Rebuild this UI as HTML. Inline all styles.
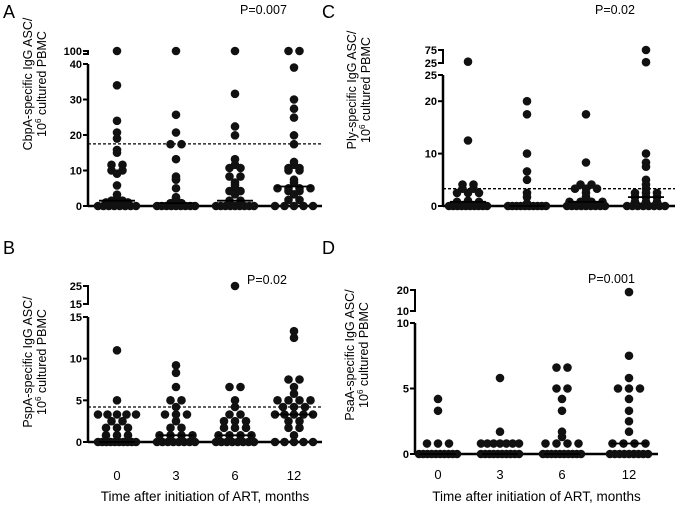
<!DOCTYPE html>
<html><head><meta charset="utf-8"><style>
body{margin:0;background:#fff}
svg text{font-family:"Liberation Sans",Arial,sans-serif}
</style></head><body>
<svg id="fig" width="686" height="508" xmlns="http://www.w3.org/2000/svg"></svg>
<script>
const categories = ["0","3","6","12"];
const seriesA = [
 [100,34,24,20.7,19,15.8,15,11.6,11.6,10,10,9.1,5.8,3.2,2,1.5,1.5,1,1,1,0.8,0,0,0,0,0,0,0,0],
 [100,25.7,20.7,17.4,17.4,13.2,8.3,7.6,7.4,5,2.5,2,1,0.8,0.8,0,0,0,0,0,0,0,0,0],
 [100,31.6,22.4,19.9,13.2,11.6,10.7,10.7,8.3,8.3,6.6,5.8,5,4.2,4.2,3.3,1.5,1.5,1,1,0,0,0,0,0,0,0,0,0],
 [100,100,39,30,27.4,24.9,19.9,17.4,12.4,11.6,10.7,10.7,10,10,7.4,6.6,5,5,5,5,4.2,4.2,3.3,1.7,1.7,0,0,0,0,0]];
const mediansA = [1.5,0.8,1.5,5.5];
const seriesB = [
 [11,5,3.3,3.3,3.3,3.3,3.3,2.5,2.5,1.7,1.7,1.7,0.8,0.8,0.8,0,0,0,0,0,0,0,0,0,0],
 [9.2,8.3,6.6,5,5,4.2,3.3,3.3,3.3,2.5,1.7,1.7,0.8,0.8,0.8,0.8,0,0,0,0,0,0,0,0],
 [25,6.6,6.6,5,4.2,3.3,3.3,2.5,2.5,2.5,1.7,1.7,1.7,0.8,0.8,0.8,0.8,0,0,0,0,0,0,0,0],
 [13.3,12.5,7.5,7.5,6.6,5.8,5,5,5,5,4.2,4.2,4.2,3.3,3.3,3.3,3.3,3.3,2.5,2.5,1.7,1.7,0.8,0,0,0,0,0]];
const mediansB = [0,0.8,0.8,3.3];
const seriesC = [
 [30,12.5,4.1,4.1,3.3,3.3,2.5,2.5,2.5,1,0.8,0.8,0.8,0,0,0,0,0,0,0,0,0,0],
 [20,17.5,10,6.6,5,2.5,1.7,0.5,0,0,0,0,0,0,0,0,0,0],
 [17.5,8.3,4.1,4.1,3.3,3.3,3.3,2.5,1.7,0.8,0.8,0.8,0.8,0,0,0,0,0,0,0,0,0],
 [75,28,10,8.3,7.5,5,4.1,3.3,2.5,2.5,2.5,1.7,1.7,1.7,0.8,0.8,0.8,0,0,0,0,0,0,0,0]];
const mediansC = [0.8,0,0.8,1.7];
const seriesD = [
 [4.2,3.3,0.8,0.8,0.8,0,0,0,0,0,0,0,0,0,0],
 [5.8,1.7,0.8,0.8,0.8,0.8,0.8,0.8,0.8,0,0,0,0,0,0,0,0,0,0],
 [6.6,6.6,5,5,4.2,3.3,1.7,1.3,0.8,0.8,0.8,0.8,0,0,0,0,0,0,0,0,0,0],
 [19,7.5,5.8,5,5,5,4.2,3.3,2.5,1.7,0.8,0.8,0.8,0.8,0,0,0,0,0,0,0,0,0]];
const mediansD = [0,0,0,0.8];
const thresholds = [17.5,4.2,3.3,null];
const ticksA=[0,10,20,30,40], ticksB=[0,5,10,15], ticksC=[0,10,20,25], ticksD=[0,5,10];

const NS="http://www.w3.org/2000/svg", svg=document.getElementById('fig');
function el(t,a,p){const e=document.createElementNS(NS,t);for(const k in a)e.setAttribute(k,a[k]);(p||svg).appendChild(e);return e;}
function txt(s,a,p){const e=el('text',a,p);e.textContent=s;return e;}

function panel(cfg){
 const g=el('g',{});
 
 
 const y=v=>{
  if(v<=cfg.top) return cfg.y0+(cfg.yTop-cfg.y0)*v/cfg.top;
  return cfg.bLoY+(cfg.bHiY-cfg.bLoY)*(Math.min(v,cfg.bHi)-cfg.bLo)/(cfg.bHi-cfg.bLo);
 };
 const ax=cfg.ax;
 const ya=el('line',{x1:ax,y1:cfg.yTop,x2:ax,y2:cfg.y0+1,stroke:'#000','stroke-width':2.5},g);
 
 const xa=el('line',{x1:ax,y1:cfg.y0,x2:cfg.xEnd,y2:cfg.y0,stroke:'#000','stroke-width':2.5},g);
 
 cfg.ticks.forEach(t=>{
  el('line',{x1:ax-5,y1:y(t),x2:ax,y2:y(t),stroke:'#000','stroke-width':2},g);
  const l=txt(String(t),{x:ax-6,y:y(t)+4,'text-anchor':'end','font-size':11,'font-weight':'bold'},g);
  
 });
 const b=el('path',{d:`M${ax-5} ${cfg.bHiY}H${ax}V${cfg.bLoY}H${ax-5}`,fill:'none',stroke:'#000','stroke-width':2},g);
 
 cfg.bLabels.forEach(([v,yy])=>{
  const l=txt(String(v),{x:ax-6,y:yy+4,'text-anchor':'end','font-size':11,'font-weight':'bold'},g);
  
 });
 if(cfg.thr!=null){
  const d=el('line',{x1:ax,y1:y(cfg.thr),x2:cfg.xEnd,y2:y(cfg.thr),stroke:'#000','stroke-width':1.3,'stroke-dasharray':'3,2'},g);
  
 }
 cfg.series.forEach((vals,gi)=>{
  const cx=cfg.gx[gi];
  const counts={};
  vals.forEach(v=>{counts[v]=(counts[v]||0)+1;});
  const used={};
  vals.forEach(v=>{
   const n=counts[v],i=(used[v]=(used[v]||0)+1)-1;
   const sp=n>1?Math.min(11,38/(n-1)):0;
   const c=el('circle',{cx:cx+(i-(n-1)/2)*sp,cy:y(v),r:4.3,fill:'#111'},g);
   
   
  });
  const m=el('line',{x1:cx-18,y1:y(cfg.med[gi]),x2:cx+18,y2:y(cfg.med[gi]),stroke:'#000','stroke-width':1.8},g);
  
  if(cfg.xlabels){
   const l=txt(categories[gi],{x:cx,y:cfg.xly,'text-anchor':'middle','font-size':13},g);
   
  }
 });
 const t=el('text',{transform:`translate(${cfg.tx},${cfg.ty}) rotate(-90)`,'text-anchor':'middle','font-size':12.5},g);
 
 const t1=el('tspan',{x:0,dy:0},t);t1.textContent=cfg.title;
 const t2=el('tspan',{x:0,dy:14},t);t2.textContent='10';
 const t3=el('tspan',{dy:-5,'font-size':8},t);t3.textContent='6';
 const t4=el('tspan',{dy:5},t);t4.textContent=' cultured PBMC';
 const p=txt(cfg.p,{x:cfg.px,y:cfg.py,'font-size':12.5},g);
 
 const L=txt(cfg.letter,{x:cfg.lx,y:cfg.ly,'font-size':18},g);
 
 if(cfg.xlabels){
  const xt=txt('Time after initiation of ART, months',{x:(ax+cfg.xEnd)/2,y:501,'text-anchor':'middle','font-size':13.5},g);
  
 }
}
panel({name:'panel-a',series:seriesA,med:mediansA,thr:thresholds[0],ticks:ticksA,ax:88,xEnd:322,y0:206,yTop:64,top:40,
 bLo:40,bHi:100,bLoY:54,bHiY:51,bLabels:[[100,51]],gx:[117,176,235,294],title:'CbpA-specific IgG  ASC/',tx:32,ty:84,
 p:'P=0.007',px:240,py:14,letter:'A',lx:3,ly:18});
panel({name:'panel-b',series:seriesB,med:mediansB,thr:thresholds[1],ticks:ticksB,ax:88,xEnd:322,y0:442,yTop:317,top:15,
 bLo:15,bHi:25,bLoY:304,bHiY:286,bLabels:[[25,286],[15,304]],gx:[117,176,235,294],title:'PspA-specific IgG ASC/',tx:32,ty:362,
 p:'P=0.02',px:247,py:284,letter:'B',lx:3,ly:254,xlabels:true,xly:480});
panel({name:'panel-c',series:seriesC,med:mediansC,thr:thresholds[2],ticks:ticksC,ax:443,xEnd:675,y0:206,yTop:75,top:25,
 bLo:25,bHi:75,bLoY:63,bHiY:50,bLabels:[[75,50],[25,63]],gx:[468,527,586,646],title:'Ply-specific IgG ASC/',tx:356,ty:90,
 p:'P=0.02',px:595,py:14,letter:'C',lx:322,ly:18});
panel({name:'panel-d',series:seriesD,med:mediansD,thr:thresholds[3],ticks:ticksD,ax:415,xEnd:658,y0:454,yTop:323,top:10,
 bLo:10,bHi:20,bLoY:311,bHiY:290,bLabels:[[20,290],[10,311]],gx:[438,500,562,629],title:'PsaA-specific IgG ASC/',tx:354,ty:355,
 p:'P=0.001',px:588,py:283,letter:'D',lx:322,ly:254,xlabels:true,xly:479});
</script>
</body></html>
